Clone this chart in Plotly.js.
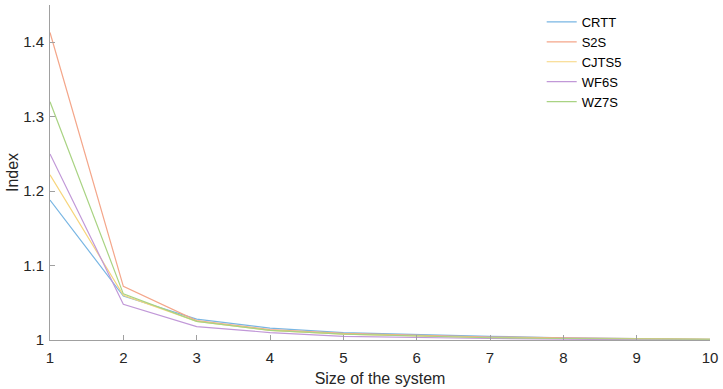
<!DOCTYPE html>
<html><head><meta charset="utf-8">
<script src="https://cdn.plot.ly/plotly-3.0.1.min.js"></script>
<style>html,body{margin:0;padding:0;background:#fff}#chart{width:723px;height:389px}</style>
</head><body><div id="chart"></div>
<script>
const sizes = [1,2,3,4,5,6,7,8,9,10];
const seriesNames = ["CRTT","S2S","CJTS5","WF6S","WZ7S"];
const CRTT  = [1.188,1.059,1.028,1.016,1.010,1.007,1.005,1.003,1.002,1.001];
const S2S   = [1.413,1.072,1.026,1.014,1.009,1.006,1.004,1.003,1.002,1.001];
const CJTS5 = [1.222,1.060,1.025,1.013,1.008,1.005,1.003,1.002,1.001,1.001];
const WF6S  = [1.250,1.048,1.018,1.010,1.005,1.003,1.002,1.001,1.001,1.000];
const WZ7S  = [1.320,1.062,1.025,1.013,1.008,1.005,1.003,1.002,1.001,1.001];
const values = [CRTT,S2S,CJTS5,WF6S,WZ7S];
const colors = ["#79b6e3","#f4a68a","#f7d57c","#c198d8","#a9d383"];
const traces = seriesNames.map((n,i)=>({x:sizes,y:values[i],name:n,type:"scatter",mode:"lines",line:{color:colors[i],width:1.2}}));
const fontFam = "Liberation Sans, Arial";
const axisCommon = {showgrid:false,zeroline:false,showline:true,linecolor:"#a0a0a0",linewidth:1,ticks:"inside",ticklen:5,tickcolor:"#a0a0a0",tickfont:{family:fontFam,size:15,color:"#262626"},mirror:false};
const layout = {
  width:723,height:389,margin:{l:50,r:13,t:5,b:49},
  paper_bgcolor:"#fff",plot_bgcolor:"#fff",
  xaxis:Object.assign({},axisCommon,{range:[1,10],tickvals:sizes,ticktext:sizes.map(String),ticklabelstandoff:4,
     title:{text:"Size of the system",font:{family:fontFam,size:16,color:"#262626"},standoff:7}}),
  yaxis:Object.assign({},axisCommon,{range:[1,1.45],tickvals:[1,1.1,1.2,1.3,1.4],ticktext:["1","1.1","1.2","1.3","1.4"],ticklabelstandoff:2,
     title:{text:"Index",font:{family:fontFam,size:16,color:"#262626"},standoff:0}}),
  showlegend:true,
  legend:{x:0.745,y:0.994,xanchor:"left",yanchor:"top",bgcolor:"rgba(0,0,0,0)",font:{family:fontFam,size:13,color:"#000"},tracegroupgap:0,itemwidth:30}
};
Plotly.newPlot("chart",traces,layout,{displayModeBar:false});
</script></body></html>
